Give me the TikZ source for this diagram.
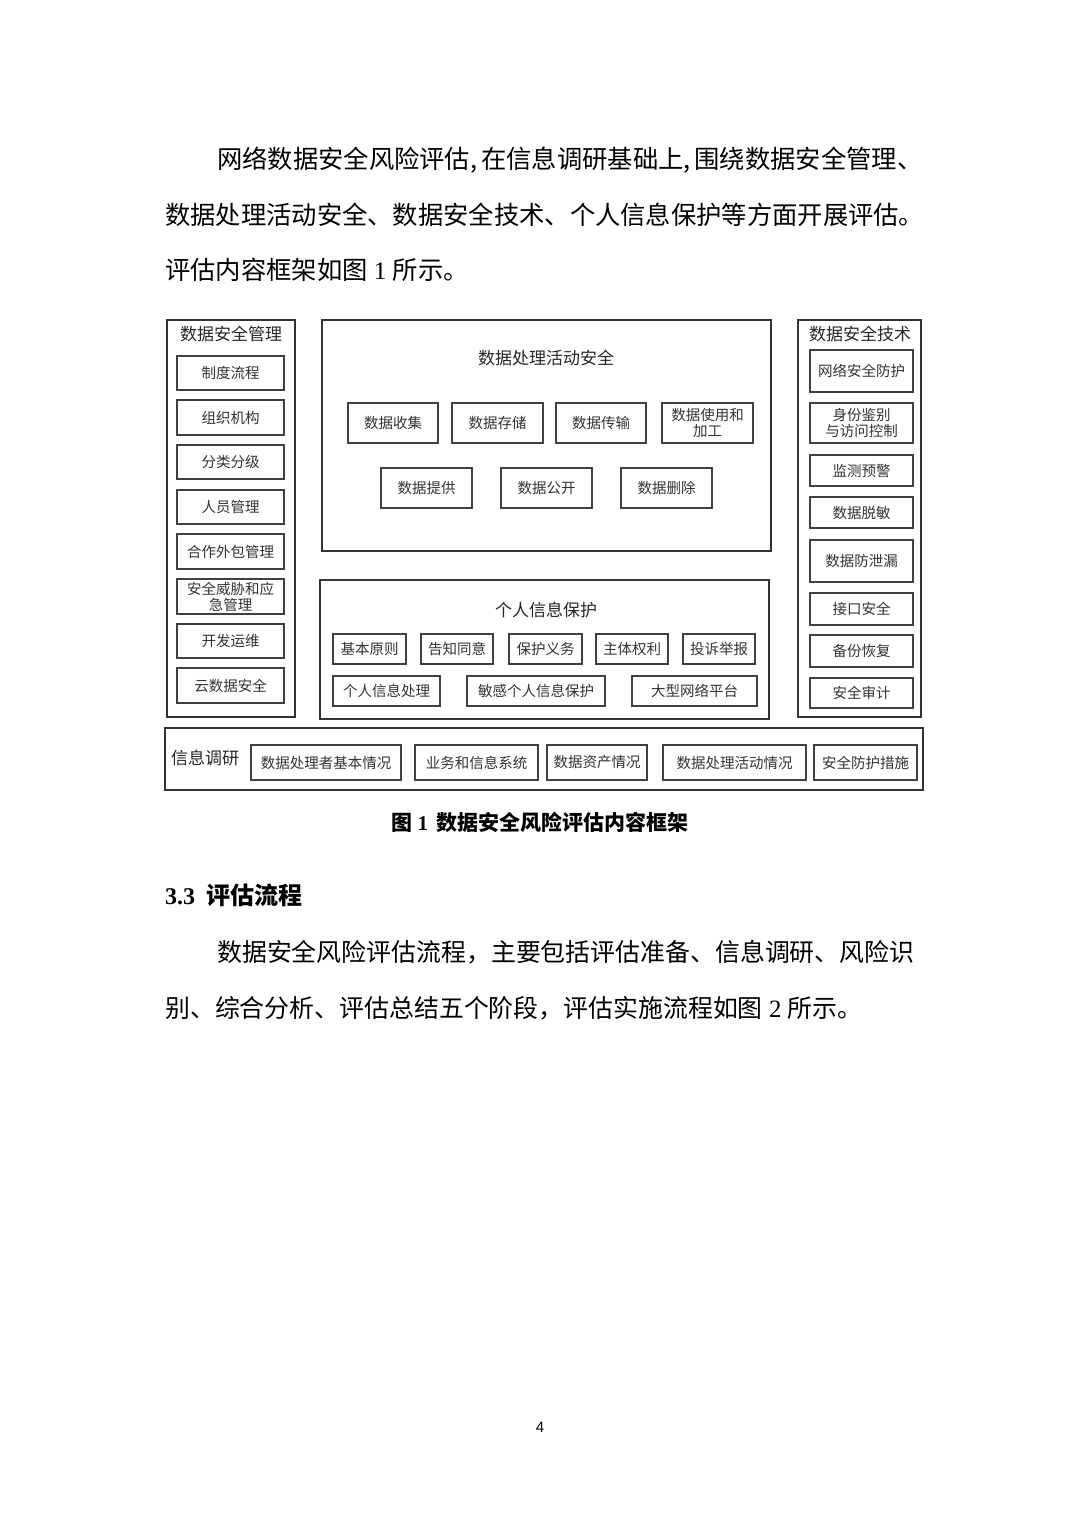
\documentclass[tikz,border=0pt]{standalone}
\usepackage{fontspec}
\setmainfont{Noto Sans CJK SC}
\newfontfamily\tnr{Liberation Serif}
\newfontfamily\pgnum{Liberation Sans}
\tikzset{
  outerbox/.style={draw=black!80, line width=1.2pt, inner sep=0pt},
  inbox/.style={draw=black!75, line width=1.05pt, inner sep=0pt, align=center, text=black!80,
    font=\fontsize{14.5}{16}\selectfont},
  grouptitle/.style={inner sep=0pt, text=black!85, font=\fontsize{17}{20}\selectfont},
  bodyline/.style={inner sep=0pt, anchor=west, font=\fontsize{25.3}{30}\selectfont}
}
\newcommand\mybox[6]{%
  \node[inbox, minimum width={(#4-#2)*1pt}, minimum height={(#5-#3)*1pt}]
    (#1) at ({(#2+#4)/2},{(#3+#5)/2}) {#6};}
\newcommand\myouter[5]{%
  \node[outerbox, minimum width={(#4-#2)*1pt}, minimum height={(#5-#3)*1pt}]
    (#1) at ({(#2+#4)/2},{(#3+#5)/2}) {};}
\begin{document}
\begin{tikzpicture}[x=1pt,y=-1pt]
\useasboundingbox[fill=white] (0,0) rectangle (1080,1527);

% ---- body text above
\node[bodyline] (p1a) at (217,160) {网络数据安全风险评估,\kern4pt 在信息调研基础上,\kern4pt 围绕数据安全管理、};
\node[bodyline] (p1b) at (165,215) {数据处理活动安全、数据安全技术、个人信息保护等方面开展评估。};
\node[bodyline] (p1c) at (165,270) {评估内容框架如图{\tnr\ 1 }所示。};

% ---- left column
\myouter{lm}{167}{320}{295}{717}
\node[grouptitle] (lmt) at (231,334) {数据安全管理};
\mybox{lm1}{177}{356}{284}{390}{制度流程}
\mybox{lm2}{177}{400}{284}{435}{组织机构}
\mybox{lm3}{177}{445}{284}{479}{分类分级}
\mybox{lm4}{177}{490}{284}{524}{人员管理}
\mybox{lm5}{177}{534}{284}{569}{合作外包管理}
\mybox{lm6}{177}{579}{284}{614}{安全威胁和应\\急管理}
\mybox{lm7}{177}{624}{284}{658}{开发运维}
\mybox{lm8}{177}{668}{284}{703}{云数据安全}

% ---- data processing activities
\myouter{dp}{322}{320}{771}{551}
\node[grouptitle] (dpt) at (546,358) {数据处理活动安全};
\mybox{dp1}{348}{403}{438}{443}{数据收集}
\mybox{dp2}{452}{403}{543}{443}{数据存储}
\mybox{dp3}{556}{403}{646}{443}{数据传输}
\mybox{dp4}{662}{403}{753}{443}{数据使用和\\加工}
\mybox{dp5}{381}{468}{472}{508}{数据提供}
\mybox{dp6}{501}{468}{592}{508}{数据公开}
\mybox{dp7}{621}{468}{712}{508}{数据删除}

% ---- personal information protection
\myouter{pi}{320}{580}{769}{719}
\node[grouptitle] (pit) at (546,610) {个人信息保护};
\mybox{pi1}{333}{634}{406}{664}{基本原则}
\mybox{pi2}{421}{634}{493}{664}{告知同意}
\mybox{pi3}{509}{634}{582}{664}{保护义务}
\mybox{pi4}{596}{634}{668}{664}{主体权利}
\mybox{pi5}{683}{634}{755}{664}{投诉举报}
\mybox{pi6}{333}{676}{440}{706}{个人信息处理}
\mybox{pi7}{467}{676}{605}{706}{敏感个人信息保护}
\mybox{pi8}{632}{676}{757}{706}{大型网络平台}

% ---- right column
\myouter{rt}{798}{320}{921}{717}
\node[grouptitle] (rtt) at (860,334) {数据安全技术};
\mybox{rt1}{810}{350}{913}{392}{网络安全防护}
\mybox{rt2}{810}{403}{913}{443}{身份鉴别\\与访问控制}
\mybox{rt3}{810}{455}{913}{486}{监测预警}
\mybox{rt4}{810}{497}{913}{528}{数据脱敏}
\mybox{rt5}{810}{540}{913}{582}{数据防泄漏}
\mybox{rt6}{810}{593}{913}{625}{接口安全}
\mybox{rt7}{810}{635}{913}{667}{备份恢复}
\mybox{rt8}{810}{678}{913}{708}{安全审计}

% ---- bottom band
\myouter{ir}{165}{728}{923}{790}
\node[grouptitle] (irt) at (205,758) {信息调研};
\mybox{ir1}{251}{745}{401}{780}{数据处理者基本情况}
\mybox{ir2}{415}{745}{538}{780}{业务和信息系统}
\mybox{ir3}{547}{745}{647}{780}{数据资产情况}
\mybox{ir4}{663}{745}{806}{780}{数据处理活动情况}
\mybox{ir5}{814}{745}{917}{780}{安全防护措施}

% ---- caption, heading, text below
\node[inner sep=0pt, font=\fontsize{21}{25}\selectfont\bfseries] (cap) at (540,822)
  {图{\tnr\bfseries\ 1\ \,}数据安全风险评估内容框架};
\node[inner sep=0pt, anchor=west, font=\fontsize{24}{28}\selectfont\bfseries] (sec) at (165,895)
  {{\tnr\bfseries 3.3}\ \ 评估流程};
\node[bodyline, font=\fontsize{24.9}{30}\selectfont] (p2a) at (217,952) {数据安全风险评估流程，主要包括评估准备、信息调研、风险识};
\node[bodyline, font=\fontsize{24.9}{30}\selectfont] (p2b) at (165,1008) {别、综合分析、评估总结五个阶段，评估实施流程如图{\tnr\ 2 }所示。};

\node[inner sep=0pt, font=\pgnum\fontsize{15}{17}\selectfont] (pg) at (540,1427) {4};
\end{tikzpicture}
\end{document}
